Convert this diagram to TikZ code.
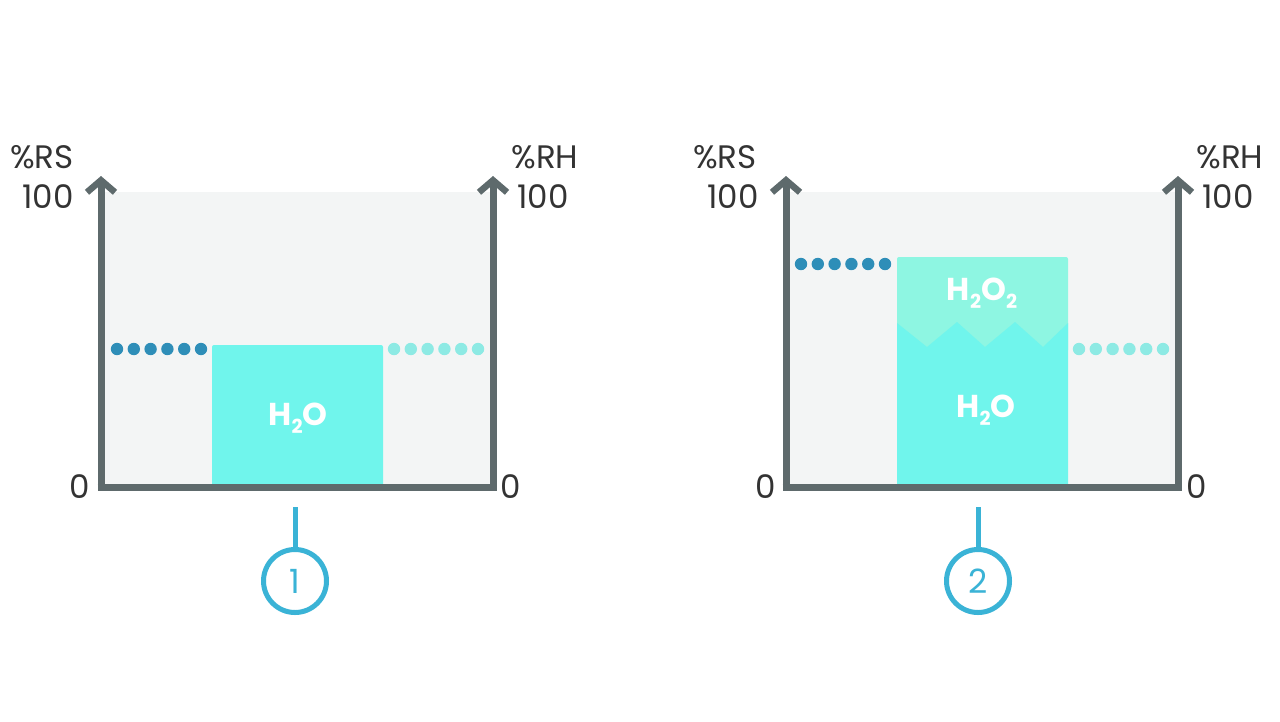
\documentclass[tikz,border=0pt]{standalone}
\usepackage{fontspec}
\setmainfont{Poppins}
\usetikzlibrary{arrows.meta}
\definecolor{axisgrey}{HTML}{5E6A6C}
\definecolor{panel}{HTML}{F3F5F5}
\definecolor{water}{HTML}{70F5EC}
\definecolor{perox}{HTML}{8EF6E2}
\definecolor{darkdot}{HTML}{2E8EB8}
\definecolor{lightdot}{HTML}{8DEAE4}
\definecolor{marker}{HTML}{3AB3D6}
\definecolor{txt}{HTML}{333333}
\newcommand{\lowsub}[1]{\raisebox{-0.45ex}{\fontsize{11}{11}\selectfont #1}}
\tikzset{
  axisline/.style={draw=axisgrey,line width=7*0.02cm,line cap=butt},
  axisarrow/.style={axisline,-{Straight Barb[length=12*0.02cm,width=28*0.02cm,line width=6.5*0.02cm]}},
  lbl/.style={text=txt,font=\fontsize{18.5}{18.5}\selectfont,inner sep=0pt},
  inlbl/.style={text=white,font=\fontsize{18}{18}\selectfont\bfseries,inner sep=0pt},
  ddot/.style={fill=darkdot,draw=none},
  ldot/.style={fill=lightdot,draw=none},
  mkline/.style={draw=marker,line width=5*0.02cm},
  mkcircle/.style={circle,draw=marker,line width=5*0.02cm,minimum size=63*0.02cm,inner sep=0pt,text=marker,font=\fontsize{19}{19}\selectfont},
}
\begin{document}
\begin{tikzpicture}[x=0.02cm,y=-0.02cm]
\useasboundingbox[fill=white] (0,0) rectangle (1280,721);
% ---------- Chart 1 ----------
\fill[panel] (101,192) rectangle (493,487);
\fill[water,rounded corners=2*0.02cm] (212,487) -- (212,345) -- (383,345) -- (383,487) -- cycle;
\node[inlbl] (w1) at (298,418) {H\lowsub{2}O};
\foreach \i in {0,...,5} {
  \fill[ddot] (117+\i*16.8,349) circle (6.2*0.02cm);
  \fill[ldot] (394+\i*16.8,349) circle (6.2*0.02cm);
}
\coordinate (o1) at (101,487);
\coordinate (l1top) at (101,176);
\coordinate (r1) at (493,487);
\coordinate (r1top) at (493,176);
\draw[axisline] (97.5,487) -- (496.5,487);
\draw[axisarrow] (o1) -- (l1top);
\draw[axisarrow] (r1) -- (r1top);
\node[lbl] (rs1) at (42,157) {\%RS};
\node[lbl] (h1) at (48,197) {100};
\node[lbl] (z1) at (80,487) {0};
\node[lbl] (rh1) at (545,157) {\%RH};
\node[lbl] (h1r) at (543,197) {100};
\node[lbl] (z1r) at (511,487) {0};
\coordinate (m1) at (295,507);
\node[mkcircle] (c1) at (295,581) {1};
\draw[mkline] (m1) -- (c1.north);
% ---------- Chart 2 ----------
\fill[panel] (786,192) rectangle (1178,487);
\fill[perox,rounded corners=2*0.02cm] (897,352) -- (897,257) -- (1068,257) -- (1068,352) -- cycle;
\fill[water] (897,487) -- (897,323) -- (927,347) -- (957,322) -- (985,347) -- (1015,322) -- (1043,347) -- (1068,323) -- (1068,487) -- cycle;
\node[inlbl] (p2) at (982,293) {H\lowsub{2}O\lowsub{2}};
\node[inlbl] (w2) at (986,410) {H\lowsub{2}O};
\foreach \i in {0,...,5} {
  \fill[ddot] (801+\i*16.8,264) circle (6.2*0.02cm);
  \fill[ldot] (1079+\i*16.8,349) circle (6.2*0.02cm);
}
\coordinate (o2) at (786,487);
\coordinate (l2top) at (786,176);
\coordinate (r2) at (1178,487);
\coordinate (r2top) at (1178,176);
\draw[axisline] (782.5,487) -- (1181.5,487);
\draw[axisarrow] (o2) -- (l2top);
\draw[axisarrow] (r2) -- (r2top);
\node[lbl] (rs2) at (725,157) {\%RS};
\node[lbl] (h2) at (733,197) {100};
\node[lbl] (z2) at (766,487) {0};
\node[lbl] (rh2) at (1230,157) {\%RH};
\node[lbl] (h2r) at (1228,197) {100};
\node[lbl] (z2r) at (1197,487) {0};
\coordinate (m2) at (978,507);
\node[mkcircle] (c2) at (978,581) {2};
\draw[mkline] (m2) -- (c2.north);
\end{tikzpicture}
\end{document}
